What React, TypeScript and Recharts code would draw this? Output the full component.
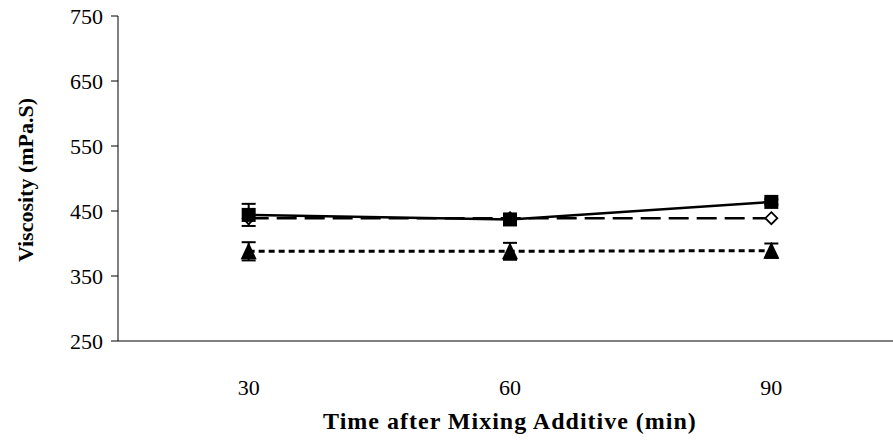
import React from "react"
import { LineChart, Line, XAxis, YAxis, ErrorBar } from "recharts"

const times = [30, 60, 90]
const squareVals = [444, 437, 464]
const squareErr = [17, 5, 4]
const diamondVals = [439, 439, 439]
const triangleVals = [388, 388, 389]
const triangleErr = [14, 13, 11]
const yTicks = [250, 350, 450, 550, 650, 750]

const data = times.map((t, i) => ({
  time: t,
  square: squareVals[i],
  squareErr: squareErr[i],
  diamond: diamondVals[i],
  triangle: triangleVals[i],
  triangleErr: triangleErr[i],
}))

const font = "'Liberation Serif', 'Times New Roman', serif"

const SquareDot = (props: any) => {
  const { cx, cy } = props
  if (cx == null || cy == null) return null
  return <rect x={cx - 7} y={cy - 7} width={14} height={14} fill="#000" />
}

const DiamondDot = (props: any) => {
  const { cx, cy } = props
  if (cx == null || cy == null) return null
  const r = 6
  return (
    <path
      d={`M${cx},${cy - r} L${cx + r},${cy} L${cx},${cy + r} L${cx - r},${cy} Z`}
      fill="#fff"
      stroke="#000"
      strokeWidth={1.8}
    />
  )
}

const TriangleDot = (props: any) => {
  const { cx, cy } = props
  if (cx == null || cy == null) return null
  return (
    <path d={`M${cx},${cy - 9} L${cx + 8},${cy + 8} L${cx - 8},${cy + 8} Z`} fill="#000" />
  )
}

const YTitle = () => (
  <text
    x={25}
    y={180}
    transform="rotate(-90 25 180)"
    textAnchor="middle"
    dominantBaseline="central"
    fontFamily={font}
    fontWeight="bold"
    fontSize={22}
    fill="#000"
  >
    Viscosity (mPa.S)
  </text>
)

export default function App() {
  return (
    <div style={{ position: "absolute", left: 0, top: 0, width: 893, height: 442, overflow: "hidden", background: "#fff" }}>
      <LineChart width={902} height={442} data={data} margin={{ top: 16, right: 0, left: 0, bottom: 0 }}>
        {/* axis line + boundary tick marks between categories */}
        <XAxis
          xAxisId="frame"
          dataKey="time"
          type="number"
          domain={[15, 105]}
          ticks={[15, 45, 75, 105]}
          tick={false}
          tickLine={{ stroke: "#000" }}
          tickSize={8}
          axisLine={{ stroke: "#000", strokeWidth: 1 }}
          height={1}
        />
        {/* category labels and title */}
        <XAxis
          xAxisId="labels"
          dataKey="time"
          type="number"
          domain={[15, 105]}
          ticks={times}
          tickLine={false}
          tickSize={0}
          axisLine={false}
          tick={{ fill: "#000", fontFamily: font, fontSize: 22 }}
          tickMargin={37}
          height={100}
          label={{
            value: "Time after Mixing Additive (min)",
            position: "insideBottom",
            offset: 13,
            fill: "#000",
            fontFamily: font,
            fontWeight: "bold",
            fontSize: 24,
            letterSpacing: 1,
          }}
        />
        <YAxis
          domain={[250, 750]}
          ticks={yTicks}
          interval={0}
          width={118}
          tickSize={7}
          tickMargin={8}
          tickLine={{ stroke: "#000" }}
          axisLine={{ stroke: "#000", strokeWidth: 1 }}
          tick={{ fill: "#000", fontFamily: font, fontSize: 22 }}
          label={<YTitle />}
        />
        <Line
          xAxisId="frame"
          dataKey="triangle"
          stroke="#000"
          strokeWidth={3}
          strokeDasharray="6 4"
          dot={<TriangleDot />}
          activeDot={false}
          isAnimationActive={false}
        >
          <ErrorBar dataKey="triangleErr" width={7} stroke="#000" strokeWidth={2} />
        </Line>
        <Line
          xAxisId="frame"
          dataKey="diamond"
          stroke="#000"
          strokeWidth={2.5}
          strokeDasharray="20 8"
          dot={<DiamondDot />}
          activeDot={false}
          isAnimationActive={false}
        />
        <Line
          xAxisId="frame"
          dataKey="square"
          stroke="#000"
          strokeWidth={2.5}
          dot={<SquareDot />}
          activeDot={false}
          isAnimationActive={false}
        >
          <ErrorBar dataKey="squareErr" width={7} stroke="#000" strokeWidth={2} />
        </Line>
      </LineChart>
    </div>
  )
}
